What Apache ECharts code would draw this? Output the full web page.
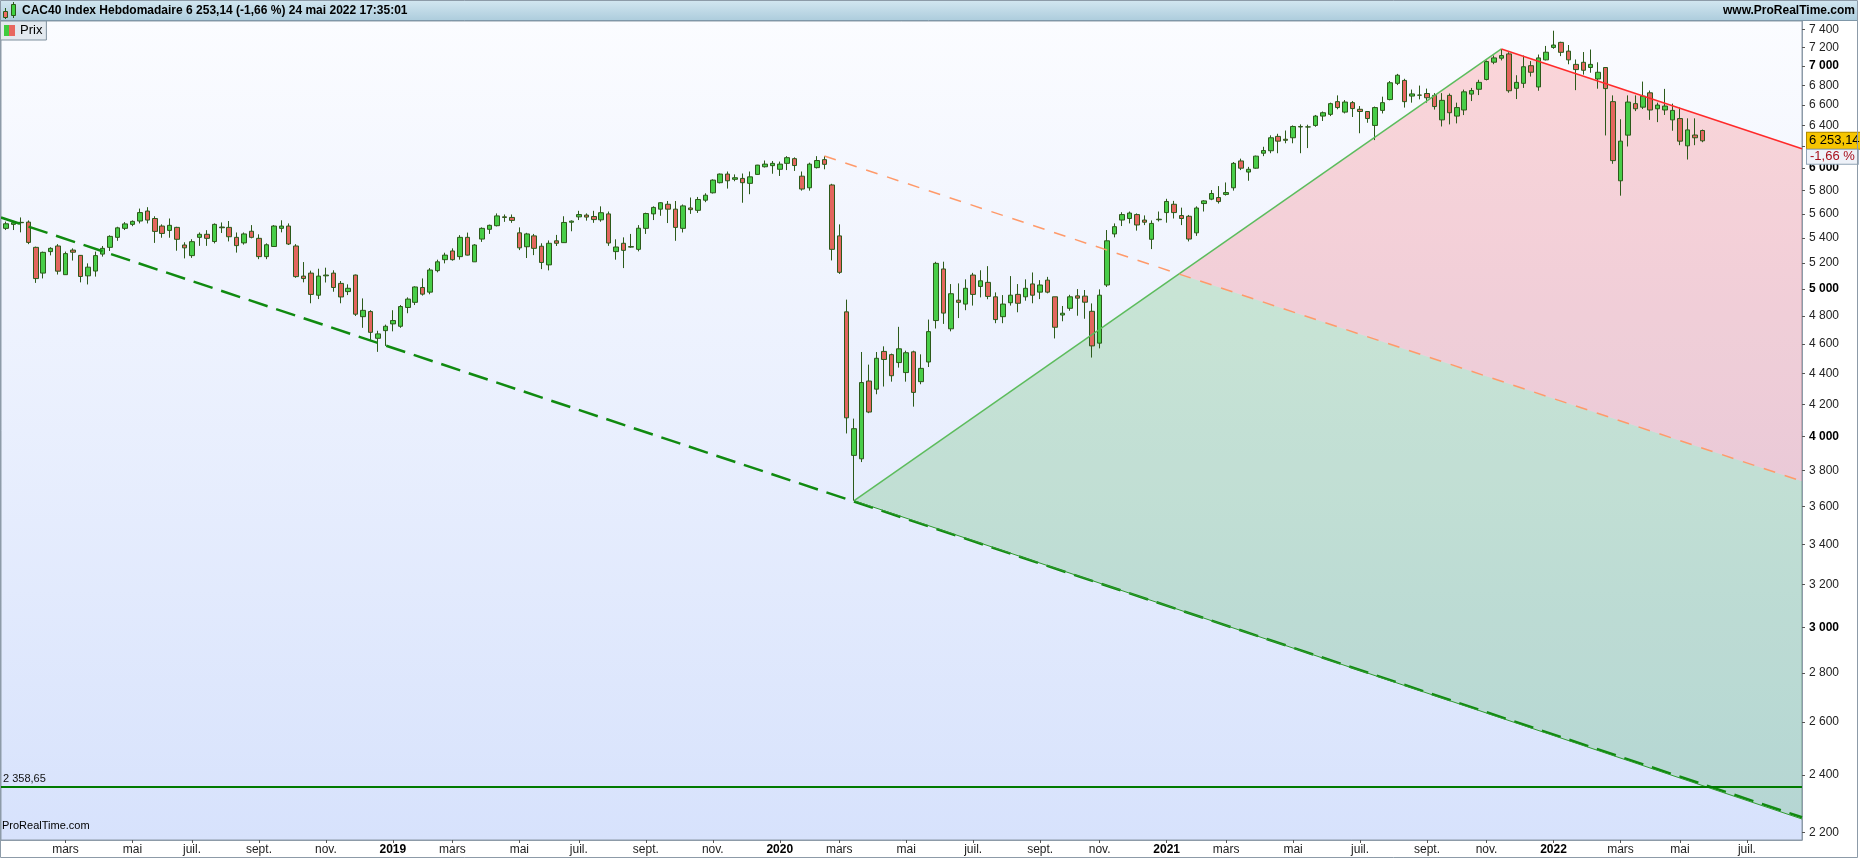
<!DOCTYPE html>
<html>
<head>
<meta charset="utf-8">
<title>CAC40 Index Hebdomadaire</title>
<script src="https://cdn.jsdelivr.net/npm/echarts@6.0.0/dist/echarts.min.js"></script>
<style>
html, body { margin:0; padding:0; background:#ffffff; }
#chart { width:1860px; height:860px; }
</style>
</head>
<body>
<div id="chart"></div>
<script>
// ---------------- DATA ----------------
const firstWeek = '2018-01-08'; // Monday of the first weekly candle
const opens = [
5479,5512,5526,5531,5324,5121,5290,5335,5109,5302,
5260,5100,5137,5270,5324,5405,5479,5512,5540,5624,
5561,5498,5462,5487,5343,5258,5405,5430,5371,5490,
5487,5405,5360,5455,5397,5250,5331,5479,5498,5335,
5098,5121,4953,5100,5121,5042,4980,5106,4795,4832,
4641,4695,4743,4726,4862,4900,5011,4976,5140,5226,
5295,5250,5405,5209,5391,5471,5501,5575,5570,5442,
5329,5417,5333,5185,5377,5362,5530,5575,5590,5578,
5550,5600,5290,5357,5330,5308,5479,5600,5640,5682,
5640,5479,5650,5630,5717,5781,5870,5947,5900,5908,
5864,5944,6013,6023,5990,6044,6087,5928,5825,6005,
6078,5850,5417,4830,3889,3869,4351,4298,4550,4528,
4474,4407,4547,4347,4478,4767,5153,4708,4916,4887,
5106,5019,5050,4941,4795,4897,4959,4941,5038,4976,
5067,4941,4807,4856,4948,4946,4834,4607,5030,5433,
5548,5561,5594,5548,5389,5555,5611,5682,5586,5580,
5442,5688,5726,5740,5767,5825,6066,5965,6000,6137,
6160,6295,6268,6282,6390,6385,6400,6491,6508,6634,
6530,6624,6558,6536,6400,6547,6655,6820,6850,6690,
6700,6716,6697,6454,6697,6491,6551,6710,6759,6860,
7041,7084,7130,6769,6820,7004,6783,7066,7200,7255,
7160,7018,7040,6985,6865,6985,6634,5887,6307,6614,
6579,6723,6563,6551,6454,6467,6206,6308,6351];
const closes = [
5517,5526,5529,5364,5079,5284,5316,5136,5274,5285,
5095,5167,5258,5316,5413,5483,5516,5537,5611,5548,
5454,5437,5504,5389,5320,5370,5430,5397,5512,5484,
5410,5338,5433,5405,5250,5345,5498,5498,5351,5094,
5079,4959,5098,5106,5011,4940,5005,4813,4841,4683,
4672,4726,4767,4869,4924,5015,4961,5145,5209,5262,
5226,5405,5262,5343,5479,5504,5583,5570,5545,5320,
5433,5316,5204,5357,5357,5528,5539,5594,5573,5552,
5610,5359,5327,5300,5326,5480,5603,5655,5695,5640,
5487,5668,5636,5723,5760,5893,5947,5887,5914,5870,
5922,6028,6037,6044,6037,6096,6024,5814,6037,6070,
6035,5308,5127,4116,4049,4341,4152,4503,4495,4386,
4568,4541,4277,4435,4688,5197,4821,4964,4900,5005,
4959,5062,4944,4774,4887,4953,4893,5005,4953,5030,
4976,4719,4820,4941,4931,4901,4588,4953,5377,5493,
5594,5607,5507,5530,5520,5551,5706,5611,5561,5391,
5650,5711,5775,5705,5783,6044,6000,5990,6110,6162,
6282,6250,6258,6390,6385,6386,6491,6524,6614,6575,
6630,6565,6536,6467,6575,6624,6826,6904,6634,6712,
6699,6673,6585,6647,6524,6575,6733,6746,6830,7048,
7087,7112,6744,6830,6993,6935,7087,7148,7226,7147,
7066,6963,6956,7018,6935,6766,6069,6250,6630,6563,
6689,6551,6600,6590,6547,6250,6357,6282,6253.14];
const lows = [
5465,5465,5446,5350,5046,5080,5260,5110,5109,5219,
5050,5034,5094,5250,5295,5377,5465,5497,5520,5520,
5360,5402,5402,5297,5236,5240,5336,5336,5356,5441,
5372,5282,5346,5397,5230,5230,5329,5446,5343,5085,
5050,4893,4924,5049,4979,4893,4954,4800,4715,4623,
4547,4588,4690,4715,4820,4880,4950,4960,5127,5197,
5218,5226,5259,5209,5368,5433,5495,5533,5525,5302,
5239,5262,5152,5142,5335,5360,5455,5548,5543,5525,
5534,5336,5226,5160,5320,5292,5433,5548,5584,5523,
5377,5445,5600,5608,5700,5775,5864,5818,5883,5695,
5769,5940,6006,5950,5930,5983,5975,5800,5800,5997,
5990,5220,5115,4020,3632,3850,4145,4265,4315,4347,
4440,4347,4186,4330,4444,4710,4743,4690,4785,4842,
4876,4937,4923,4748,4748,4876,4827,4912,4893,4924,
4967,4640,4762,4838,4802,4780,4508,4571,5015,5405,
5498,5520,5460,5506,5310,5536,5526,5561,5506,5372,
5417,5620,5717,5688,5757,5800,5983,5887,5995,6110,
6137,6137,6230,6230,6137,6185,6387,6443,6491,6558,
6517,6482,6325,6426,6260,6517,6647,6802,6575,6624,
6657,6624,6555,6390,6410,6420,6501,6640,6700,6850,
7020,7060,6724,6660,6773,6890,6744,7060,7185,7106,
7019,6750,6910,6930,6765,6304,6040,5756,6200,6540,
6560,6454,6432,6502,6349,6212,6079,6212,6240];
const highs = [
5535,5541,5570,5545,5330,5290,5325,5350,5290,5316,
5262,5197,5290,5335,5422,5492,5531,5545,5645,5657,
5580,5512,5561,5492,5365,5390,5445,5464,5520,5528,
5540,5445,5445,5506,5430,5356,5506,5546,5520,5350,
5207,5140,5155,5163,5143,5060,5035,5110,4929,4842,
4694,4738,4842,4880,4937,5020,5080,5160,5226,5281,
5316,5423,5444,5350,5487,5510,5604,5595,5595,5487,
5442,5433,5357,5380,5425,5580,5545,5626,5604,5626,
5664,5620,5389,5405,5433,5506,5610,5664,5700,5710,
5710,5680,5740,5745,5777,5900,5952,5970,5944,5952,
5970,6030,6070,6065,6060,6110,6099,5970,6050,6110,
6111,5860,5512,4920,4111,4546,4460,4546,4585,4535,
4722,4555,4555,4530,4774,5209,5210,5037,5042,5073,
5123,5143,5175,4974,4954,5098,5037,5073,5126,5067,
5092,4941,4873,4956,4999,4992,4892,4997,5465,5520,
5614,5620,5604,5587,5545,5620,5729,5711,5653,5591,
5664,5717,5805,5840,5872,6056,6087,6012,6115,6197,
6305,6320,6351,6400,6410,6407,6502,6536,6624,6697,
6650,6640,6590,6540,6585,6684,6844,6918,6867,6756,
6797,6766,6720,6720,6716,6624,6756,6773,6857,7060,
7113,7183,7148,6904,7112,7053,7123,7216,7384,7262,
7226,7070,7150,7177,7040,6990,6697,6460,6697,6697,
6838,6746,6624,6763,6614,6575,6469,6469,6360];

// drawn objects (date, price)
const covidLow = ['2020-03-16', 3632];
const top2020  = ['2020-02-17', 6111];
const top2021  = ['2021-11-15', 7183];
const longTrendPrices = [5570, 2252];      // dashed support, at left / right edge of the chart
const channelRightPrices = { red: 6178, orange: 3740, green: 2246 }; // at right edge
const supportLevel = 2358.65;
const lastPrice = 6253.14;
const lastChange = -1.66;

// axis ticks / labels
const yTickValues = [2200,2400,2600,2800,3000,3200,3400,3600,3800,4000,4200,4400,4600,4800,5000,5200,5400,5600,5800,6000,6200,6400,6600,6800,7000,7200,7400];
const monthNames = ['', '', 'mars', '', 'mai', '', 'juil.', '', 'sept.', '', 'nov.', ''];
const labelYears = [2018, 2019, 2020, 2021, 2022];
const headerText = 'CAC40 Index Hebdomadaire 6 253,14 (-1,66 %) 24 mai 2022 17:35:01';

// ---------------- HELPERS ----------------
const DAY = 86400000;
const toTs = s => Date.parse(s + 'T00:00:00Z');
const t0 = toTs(firstWeek);
const xMin = t0 - 4.7 * DAY;
const xMax = t0 + 1689.8 * DAY;
const weekTimes = opens.map((_, i) => t0 + i * 7 * DAY);
const candleData = weekTimes.map((t, i) => [t, opens[i], closes[i], lows[i], highs[i]]);

function frNum(v, dec) {
  const s = Math.abs(v).toFixed(dec);
  const parts = s.split('.');
  const intp = parts[0].replace(/\B(?=(\d{3})+(?!\d))/g, ' ');
  return (v < 0 ? '-' : '') + intp + (dec ? ',' + parts[1] : '');
}

// label positions: first Monday of every other month
const xLabelValues = [];
labelYears.forEach(y => {
  for (let m = 0; m < 12; m += 2) {
    let d = Date.UTC(y, m, 1);
    while (new Date(d).getUTCDay() !== 1) d += DAY;
    if (d >= xMin && d <= xMax) xLabelValues.push(d);
  }
});

function intersect(a, b, c, d) {
  const den = (a[0] - b[0]) * (c[1] - d[1]) - (a[1] - b[1]) * (c[0] - d[0]);
  const t = ((a[0] - c[0]) * (c[1] - d[1]) - (a[1] - c[1]) * (c[0] - d[0])) / den;
  return [a[0] + t * (b[0] - a[0]), a[1] + t * (b[1] - a[1])];
}

const pt = p => [toTs(p[0]), p[1]];

// ---------------- CHART ----------------
const FONT = "'Liberation Sans', Arial, sans-serif";
const chart = echarts.init(document.getElementById('chart'));
const LG = echarts.graphic.LinearGradient;

function segment(name, p1, p2, style) {
  return { type: 'line', name, z: 4, silent: true, symbol: 'none', showSymbol: false,
    data: [p1, p2], lineStyle: style, emphasis: { disabled: true }, clip: true };
}

const option = {
  animation: false,
  textStyle: { fontFamily: FONT },
  grid: {
    left: 1, right: 58, top: 21, bottom: 20, show: true,
    backgroundColor: new LG(0, 0, 0, 1, [{ offset: 0, color: '#fbfcff' }, { offset: 1, color: '#d7e2fc' }]),
    borderColor: '#8d9ba8', borderWidth: 1
  },
  legend: {
    left: 0, top: 21, padding: [3, 4, 3, 4], itemWidth: 11, itemHeight: 11,
    selectedMode: false, backgroundColor: '#e3e9ef', borderColor: '#7f909e', borderWidth: 1, borderRadius: 0,
    textStyle: { fontSize: 13, color: '#000', fontFamily: FONT },
    data: [{ name: 'Prix', icon: 'rect', itemStyle: { borderWidth: 0,
      color: new LG(0, 0, 1, 0, [{ offset: 0, color: '#3fcc3f' }, { offset: 0.5, color: '#3fcc3f' }, { offset: 0.5, color: '#e8675f' }, { offset: 1, color: '#e8675f' }]) } }]
  },
  xAxis: {
    type: 'value', min: xMin, max: xMax, scale: true,
    splitLine: { show: false },
    axisLine: { show: true, onZero: false, lineStyle: { color: '#8d9ba8' } },
    axisTick: { show: true, customValues: xLabelValues, length: 3, lineStyle: { color: '#555' } },
    axisLabel: {
      customValues: xLabelValues, margin: 4, color: '#222', fontSize: 12, fontFamily: FONT,
      formatter: v => { const d = new Date(v); const m = d.getUTCMonth(); return m === 0 ? '{y|' + d.getUTCFullYear() + '}' : monthNames[m]; },
      rich: { y: { fontWeight: 'bold', fontSize: 12, color: '#000', fontFamily: FONT } }
    }
  },
  yAxis: {
    type: 'log', logBase: 10, position: 'right', min: 2176, max: 7493,
    splitLine: { show: false },
    axisLine: { show: true, lineStyle: { color: '#8d9ba8' } },
    axisTick: { show: true, customValues: yTickValues, length: 3, lineStyle: { color: '#555' } },
    axisLabel: {
      customValues: yTickValues, margin: 7, color: '#222', fontSize: 12, fontFamily: FONT,
      formatter: v => { const r = Math.round(v); const s = frNum(r, 0); return r % 1000 === 0 ? '{b|' + s + '}' : s; },
      rich: { b: { fontWeight: 'bold', fontSize: 12, color: '#000', fontFamily: FONT } }
    }
  },
  graphic: [
    { type: 'rect', z: 100, shape: { x: 0, y: 0, width: 1857, height: 20 },
      style: { fill: new LG(0, 0, 0, 1, [{ offset: 0, color: '#d3e7f1' }, { offset: 1, color: '#aecddd' }]) } },
    { type: 'line', z: 101, shape: { x1: 0, y1: 20.5, x2: 1857, y2: 20.5 }, style: { stroke: '#7f97a8', lineWidth: 1 } },
    { type: 'line', z: 101, shape: { x1: 5.5, y1: 8, x2: 5.5, y2: 19 }, style: { stroke: '#2c5a1a', lineWidth: 1 } },
    { type: 'rect', z: 102, shape: { x: 3.5, y: 11.5, width: 4, height: 6 }, style: { fill: '#ef6a62', stroke: '#2c5a1a', lineWidth: 1 } },
    { type: 'line', z: 101, shape: { x1: 13.5, y1: 2, x2: 13.5, y2: 18 }, style: { stroke: '#2c5a1a', lineWidth: 1 } },
    { type: 'rect', z: 102, shape: { x: 11.5, y: 4.5, width: 4, height: 11 }, style: { fill: '#3fd03f', stroke: '#2c5a1a', lineWidth: 1 } },
    { type: 'text', z: 102, x: 22, y: 11, style: { text: headerText, fill: '#000', fontSize: 12, fontWeight: 'bold', fontFamily: FONT, verticalAlign: 'middle' } },
    { type: 'text', z: 102, x: 1855, y: 11, style: { text: 'www.ProRealTime.com', fill: '#000', fontSize: 12, fontWeight: 'bold', fontFamily: FONT, align: 'right', verticalAlign: 'middle' } },
    { type: 'text', z: 102, x: 2, y: 826, style: { text: 'ProRealTime.com', fill: '#000', fontSize: 11, fontFamily: FONT, verticalAlign: 'middle' } },
    { type: 'rect', z: 103, shape: { x: 0.5, y: 0.5, width: 1857, height: 857 }, style: { fill: 'none', stroke: '#8d9ba8', lineWidth: 1 } }
  ],
  series: [
    {
      type: 'custom', name: 'zones', z: 1, silent: true,
      data: [pt(covidLow)],
      renderItem: (params, api) => {
        const pLow = api.coord(pt(covidLow));
        const pTop = api.coord(pt(top2021));
        const pPeak = api.coord(pt(top2020));
        const pOr = api.coord([xMax, channelRightPrices.orange]);
        const pRed = api.coord([xMax, channelRightPrices.red]);
        const pGrn = api.coord([xMax, channelRightPrices.green]);
        const pX = intersect(pLow, pTop, pPeak, pOr);
        return { type: 'group', children: [
          { type: 'polygon', shape: { points: [pLow, pX, pOr, pGrn] }, style: { fill: 'rgba(0,150,0,0.16)' } },
          { type: 'polygon', shape: { points: [pX, pTop, pRed, pOr] }, style: { fill: 'rgba(255,0,0,0.15)' } }
        ] };
      }
    },
    {
      type: 'candlestick', name: 'Prix', z: 3, barWidth: 5,
      data: candleData, encode: { x: 0, y: [1, 2, 3, 4] },
      emphasis: { disabled: true },
      itemStyle: { color: '#48cd48', color0: '#e3665e', borderColor: '#2c5a1a', borderColor0: '#2c5a1a', borderColorDoji: '#2c5a1a', borderWidth: 1 },
      markLine: {
        silent: true, symbol: ['none', 'none'], animation: false,
        data: [
          { yAxis: supportLevel, lineStyle: { color: '#007a00', width: 2, type: 'solid' },
            label: { show: true, position: 'insideStartTop', distance: 2, formatter: frNum(supportLevel, 2), color: '#111', fontSize: 11, fontFamily: FONT } },
          { yAxis: lastPrice, lineStyle: { color: 'transparent', width: 0 },
            label: { show: true, position: 'end', distance: 5, formatter: frNum(lastPrice, 2), backgroundColor: '#f6c500', borderColor: '#b08a00', borderWidth: 1, padding: [2, 2, 1, 2], color: '#000', fontSize: 13, fontFamily: FONT } },
          { yAxis: lastPrice, lineStyle: { color: 'transparent', width: 0 },
            label: { show: true, position: 'end', distance: 5, offset: [0, 16], formatter: frNum(lastChange, 2) + ' %', backgroundColor: '#eef2f9', borderColor: '#8fa2b5', borderWidth: 1, padding: [1, 3, 0, 3], color: '#a8101c', fontSize: 13, fontFamily: FONT } }
        ]
      }
    },
    segment('Support long terme', [xMin, longTrendPrices[0]], [xMax, longTrendPrices[1]], { color: '#108a10', width: 2.5, type: [20, 9] }),
    segment('Hausse', pt(covidLow), pt(top2021), { color: '#5cbc5c', width: 1.5 }),
    segment('Canal bas', pt(covidLow), [xMax, channelRightPrices.green], { color: '#2f9a2f', width: 1 }),
    segment('Résistance', pt(top2021), [xMax, channelRightPrices.red], { color: '#ff2a2a', width: 1.5 }),
    segment('Canal 2020', pt(top2020), [xMax, channelRightPrices.orange], { color: '#ff9a6a', width: 1.5, type: [12, 10] })
  ]
};
chart.setOption(option);
</script>
</body>
</html>
